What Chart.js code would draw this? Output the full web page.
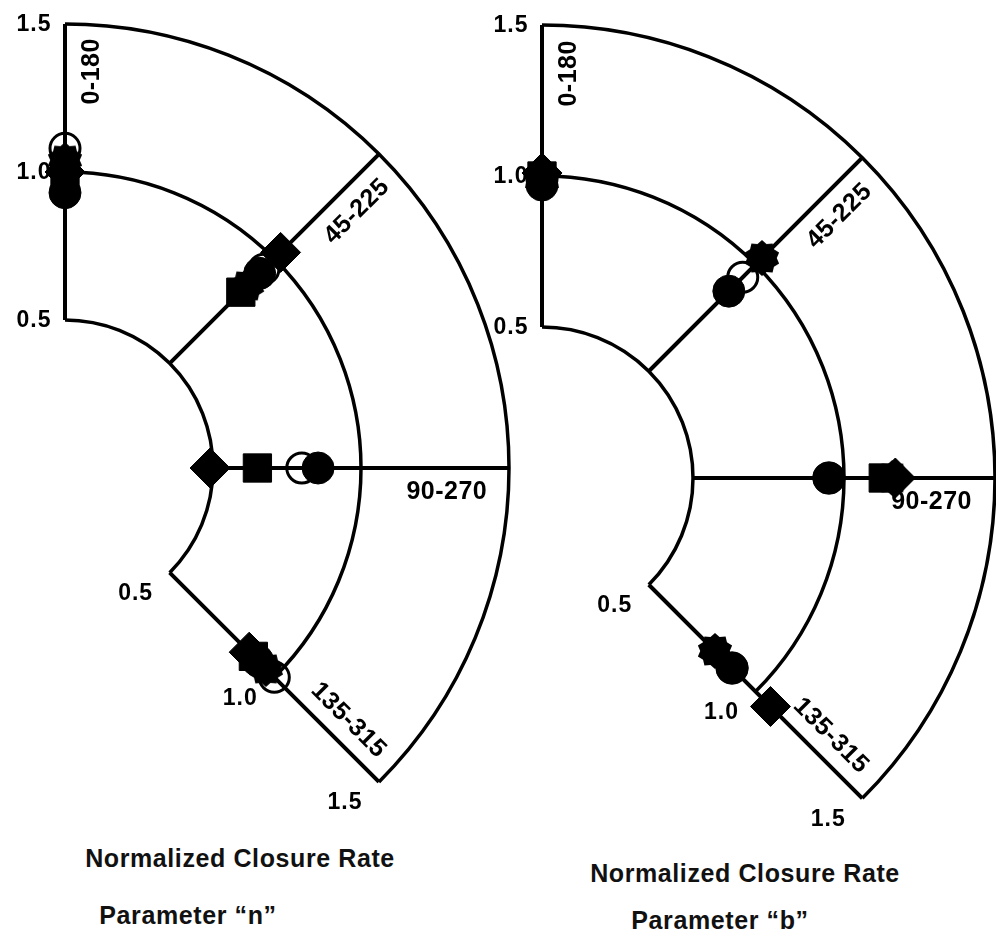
<!DOCTYPE html>
<html>
<head>
<meta charset="utf-8">
<script src="https://cdn.jsdelivr.net/npm/chart.js@4.4.1/dist/chart.umd.min.js"></script>
<style>
  html, body { margin: 0; padding: 0; background: #fff; }
  body { width: 996px; height: 939px; position: relative; overflow: hidden;
         font-family: "Liberation Sans", Arial, sans-serif; }
  canvas { position: absolute; top: 0; }
  #chartN { left: 0; }
  #chartB { left: 470px; }
  .cap { position: absolute; font-weight: bold; font-size: 25px; letter-spacing: 0.6px;
         white-space: nowrap; transform: translateX(-50%); color: #111; line-height: 30px; }
</style>
</head>
<body>
<canvas id="chartN" width="530" height="830"></canvas>
<canvas id="chartB" width="526" height="830"></canvas>
<div class="cap" style="left:240px;top:843px">Normalized Closure Rate</div>
<div class="cap" style="left:188px;top:900px">Parameter “n”</div>
<div class="cap" style="left:745px;top:858px">Normalized Closure Rate</div>
<div class="cap" style="left:720px;top:905px">Parameter “b”</div>
<script>
// Orientation pairs (degrees, measured clockwise from the vertical axis)
const angles = [0, 45, 90, 135];
const rayLabels = ['0-180', '45-225', '90-270', '135-315'];
// Radial rings and their labels
const ringValues = [0.5, 1.0, 1.5];
const tickLabels = ['0.5', '1.0', '1.5'];

// Parameter "n" – normalized closure rate per orientation
const nFilledCircle = [0.93, 0.93, 0.855, 0.92];
const nOpenCircle   = [1.08, 0.95, 0.80, 1.00];
const nSquare       = [0.97, 0.84, 0.65, 0.90];
const nDiamond      = [1.00, 1.03, 0.49, 0.88];
const nStar         = [1.04, 0.87, null, 0.96];

// Parameter "b" – normalized closure rate per orientation
const bFilledCircle = [0.97, 0.875, 0.95, 0.89];
const bOpenCircle   = [0.99, 0.94, 0.95, 0.89];
const bSquare       = [1.00, null, 1.13, null];
const bDiamond      = [1.01, null, 1.17, 1.07];
const bStar         = [0.98, 1.03, 1.16, 0.81];

// filled burst marker
function makeStar(size) {
  const c = document.createElement('canvas');
  c.width = size; c.height = size;
  const g = c.getContext('2d');
  const cx = size / 2, cy = size / 2, ro = size / 2 - 1, ri = ro * 0.82, n = 10;
  g.beginPath();
  for (let i = 0; i < n * 2; i++) {
    const r = i % 2 === 0 ? ro : ri;
    const a = -Math.PI / 2 + i * Math.PI / n;
    const px = cx + r * Math.cos(a), py = cy + r * Math.sin(a);
    if (i === 0) g.moveTo(px, py); else g.lineTo(px, py);
  }
  g.closePath();
  g.fillStyle = '#000';
  g.fill();
  return c;
}
const starImg = makeStar(38);

function toXY(values) {
  const pts = [];
  values.forEach((r, i) => {
    if (r === null) return;
    const t = angles[i] * Math.PI / 180;
    pts.push({ x: r * Math.sin(t), y: r * Math.cos(t) });
  });
  return pts;
}

const polarFrame = {
  id: 'polarFrame',
  beforeDatasetsDraw(chart) {
    const { ctx, scales: { x, y } } = chart;
    const px = (r, deg) => {
      const t = deg * Math.PI / 180;
      return [x.getPixelForValue(r * Math.sin(t)), y.getPixelForValue(r * Math.cos(t))];
    };
    const [cx, cy] = px(0, 0);
    const unit = x.getPixelForValue(1) - cx;
    const a0 = (angles[0] - 90) * Math.PI / 180;
    const a1 = (angles[angles.length - 1] - 90) * Math.PI / 180;

    ctx.save();
    ctx.strokeStyle = '#000';
    ctx.fillStyle = '#000';
    ctx.lineJoin = 'miter';

    // rings
    ctx.lineWidth = 3.5;
    ringValues.forEach(r => {
      ctx.beginPath();
      ctx.arc(cx, cy, r * unit, a0, a1);
      ctx.stroke();
    });

    // rays
    ctx.lineWidth = 4;
    angles.forEach(a => {
      const p0 = px(ringValues[0], a);
      const p1 = px(ringValues[ringValues.length - 1], a);
      ctx.beginPath();
      ctx.moveTo(p0[0], p0[1]);
      ctx.lineTo(p1[0], p1[1]);
      ctx.stroke();
    });

    // radial tick labels along the first and last rays
    ctx.font = 'bold 23px "Liberation Sans", Arial, sans-serif';
    ctx.letterSpacing = '1px';
    ctx.textAlign = 'center';
    ctx.textBaseline = 'middle';
    ringValues.forEach((r, i) => {
      const p = px(r, angles[0]);
      ctx.fillText(tickLabels[i], p[0] - 31, p[1] + 1);
      const q = px(r, angles[angles.length - 1]);
      ctx.fillText(tickLabels[i], q[0] - 34, q[1] + 21);
    });

    // orientation labels, set along each ray
    const labelR = [1.34, 1.31, 1.29, 1.28];
    const labelOff = [27, 25, 24, -22];
    ctx.font = 'bold 25px "Liberation Sans", Arial, sans-serif';
    ctx.letterSpacing = '0.5px';
    angles.forEach((a, i) => {
      const p = px(labelR[i], a);
      ctx.save();
      ctx.translate(p[0], p[1]);
      ctx.rotate((a - 90) * Math.PI / 180);
      ctx.fillText(rayLabels[i], 0, labelOff[i]);
      ctx.restore();
    });
    ctx.restore();
  }
};

function buildChart(id, series, view) {
  const [fc, oc, sq, dm, st] = series;
  const base = { showLine: false, clip: false, borderColor: '#000', backgroundColor: '#000' };
  return new Chart(document.getElementById(id), {
    type: 'scatter',
    data: {
      datasets: [
        Object.assign({}, base, { label: 'open circle', data: toXY(oc), order: 5,
          pointStyle: 'circle', pointRadius: 15, backgroundColor: 'rgba(0,0,0,0)', borderWidth: 3 }),
        Object.assign({}, base, { label: 'filled circle', data: toXY(fc), order: 4,
          pointStyle: 'circle', pointRadius: 16, borderWidth: 1 }),
        Object.assign({}, base, { label: 'square', data: toXY(sq), order: 3,
          pointStyle: 'rect', pointRadius: 20, borderWidth: 1 }),
        Object.assign({}, base, { label: 'diamond', data: toXY(dm), order: 2,
          pointStyle: 'rectRot', pointRadius: 20, borderWidth: 1 }),
        Object.assign({}, base, { label: 'star', data: toXY(st), order: 1,
          pointStyle: starImg, pointRadius: 19 })
      ]
    },
    options: {
      responsive: false,
      maintainAspectRatio: false,
      animation: false,
      devicePixelRatio: 1,
      events: [],
      layout: { padding: 0, autoPadding: false },
      plugins: { legend: { display: false }, tooltip: { enabled: false } },
      scales: {
        x: { type: 'linear', display: false, min: view.xmin, max: view.xmax },
        y: { type: 'linear', display: false, min: view.ymin, max: view.ymax }
      }
    },
    plugins: [polarFrame]
  });
}

// view windows (data units) for each canvas; the two canvases overlap slightly
buildChart('chartN', [nFilledCircle, nOpenCircle, nSquare, nDiamond, nStar],
  { xmin: -65 / 296, xmax: (530 - 65) / 296, ymin: -(830 - 468) / 296, ymax: 468 / 296 });
buildChart('chartB', [bFilledCircle, bOpenCircle, bSquare, bDiamond, bStar],
  { xmin: -72 / 302, xmax: (526 - 72) / 302, ymin: -(830 - 478) / 302, ymax: 478 / 302 });
</script>
</body>
</html>
